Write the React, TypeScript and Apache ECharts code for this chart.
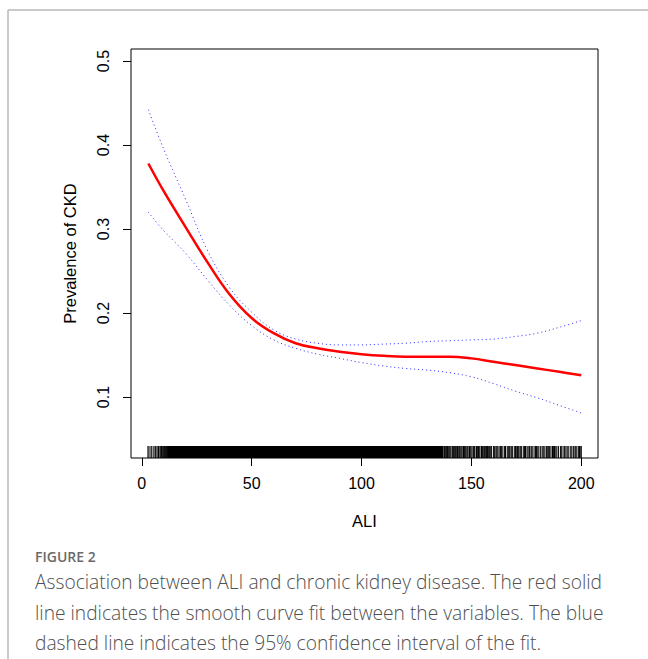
import React, { useEffect, useRef } from "react";
import * as echarts from "echarts";

const xTickValues = [0, 50, 100, 150, 200];
const yTickValues = [0.1, 0.2, 0.3, 0.4, 0.5];

const aliX = [3, 10, 20, 30, 40, 50, 60, 70, 80, 90, 100, 110, 120, 130, 140, 150, 160, 170, 180, 190, 200];
const fitY = [0.378, 0.345, 0.302, 0.26, 0.222, 0.194, 0.176, 0.164, 0.158, 0.154, 0.151, 0.149, 0.148, 0.148, 0.148, 0.146, 0.142, 0.138, 0.134, 0.13, 0.126];
const upperY = [0.442, 0.395, 0.335, 0.274, 0.23, 0.201, 0.18, 0.169, 0.164, 0.162, 0.162, 0.163, 0.164, 0.166, 0.167, 0.168, 0.169, 0.172, 0.176, 0.183, 0.191];
const lowerY = [0.32, 0.298, 0.271, 0.239, 0.209, 0.185, 0.168, 0.158, 0.151, 0.146, 0.141, 0.137, 0.134, 0.132, 0.129, 0.124, 0.116, 0.107, 0.099, 0.09, 0.081];

const rugStart = [2.8, 3.3, 4.2, 4.6, 5.5, 6.1, 6.4, 7.0, 7.6, 7.9, 8.6, 9.0, 9.3, 9.7, 10.0, 10.4, 10.7, 11.0, 11.3];
const rugDenseRanges = [[11.5, 137.2]];
const rugEnd = [137.5, 137.8, 138.3, 138.6, 139.1, 139.5, 140.1, 140.6, 141.2, 141.5, 141.9, 142.4, 142.7, 143.3, 143.7, 144.0, 144.5, 144.9, 145.4, 146.1, 146.4, 146.8, 147.2, 147.6, 148.1, 148.5, 149.1, 149.4, 149.8, 150.3, 150.9, 151.3, 151.6, 152.3, 152.7, 153.2, 153.5, 153.9, 154.6, 155.0, 155.4, 156.0, 156.5, 156.9, 157.3, 157.7, 158.3, 158.8, 159.2, 160.1, 160.4, 160.8, 161.5, 162.0, 162.6, 163.2, 163.6, 164.0, 164.9, 165.2, 165.5, 166.3, 166.8, 167.4, 168.0, 168.4, 168.8, 169.7, 170.1, 170.4, 171.0, 171.5, 172.1, 172.5, 172.9, 173.8, 174.2, 174.6, 175.3, 175.8, 176.4, 177.1, 177.5, 178.0, 178.9, 179.2, 179.6, 180.2, 180.7, 181.5, 182.2, 182.7, 183.4, 184.1, 184.5, 185.0, 185.6, 186.2, 186.9, 187.3, 187.8, 188.4, 188.9, 189.6, 190.5, 190.9, 191.7, 192.4, 193.0, 193.6, 194.3, 195.2, 195.7, 196.4, 197.1, 197.5, 198.0, 198.8, 199.2, 199.5, 200.0];

const xTitle = "ALI";
const yTitle = "Prevalence of CKD";
const figLabel = "FIGURE 2";
const captionLines = [
  "Association between ALI and chronic kidney disease. The red solid",
  "line indicates the smooth curve fit between the variables. The blue",
  "dashed line indicates the 95% confidence interval of the fit.",
];

const X_MIN = -4.9;
const X_MAX = 207.6;
const Y_MIN = 0.0274;
const Y_MAX = 0.5143;
const RUG_LEN = 12;

export default function App() {
  const ref = useRef<HTMLDivElement>(null);
  useEffect(() => {
    if (!ref.current) return;
    const chart = echarts.init(ref.current, undefined, { renderer: "svg" });
    const pairs = (ys: number[]) => aliX.map((x, i) => [x, ys[i]]);
    const rugTicks = [...rugStart, ...rugEnd].map((x) => [x, Y_MIN]);
    const font = "Liberation Sans, Arial, sans-serif";
    chart.setOption({
      animation: false,
      backgroundColor: "#ffffff",
      grid: {
        left: 131,
        top: 49,
        width: 467,
        height: 409,
        show: true,
        borderColor: "#000",
        borderWidth: 1,
      },
      xAxis: {
        type: "value",
        min: X_MIN,
        max: X_MAX,
        name: xTitle,
        nameLocation: "middle",
        nameGap: 54,
        nameMoveOverlap: false,
        nameTextStyle: { color: "#000", fontSize: 16.5, fontFamily: font },
        splitLine: { show: false },
        axisLine: { show: false, onZero: false },
        axisTick: { show: true, length: 8, customValues: xTickValues, lineStyle: { color: "#000", width: 1 } },
        axisLabel: { customValues: xTickValues, color: "#000", fontSize: 16, fontFamily: font, margin: 17 },
      },
      yAxis: {
        type: "value",
        min: Y_MIN,
        max: Y_MAX,
        name: yTitle,
        nameLocation: "middle",
        nameGap: 53,
        nameMoveOverlap: false,
        nameTextStyle: { color: "#000", fontSize: 16.5, fontFamily: font },
        splitLine: { show: false },
        axisLine: { show: false, onZero: false },
        axisTick: { show: true, length: 8, customValues: yTickValues, lineStyle: { color: "#000", width: 1 } },
        axisLabel: {
          customValues: yTickValues,
          rotate: 90,
          color: "#000",
          fontSize: 16,
          fontFamily: font,
          margin: 20,
          formatter: (v: number) => v.toFixed(1),
        },
      },
      series: [
        {
          type: "line",
          data: pairs(upperY),
          smooth: 0.4,
          showSymbol: false,
          lineStyle: { color: "#0000ff", width: 1, type: [1, 3], opacity: 0.85 },
        },
        {
          type: "line",
          data: pairs(lowerY),
          smooth: 0.4,
          showSymbol: false,
          lineStyle: { color: "#0000ff", width: 1, type: [1, 3], opacity: 0.85 },
        },
        {
          type: "line",
          data: pairs(fitY),
          smooth: 0.4,
          showSymbol: false,
          lineStyle: { color: "#ff0000", width: 2.5 },
        },
        {
          type: "custom",
          data: rugTicks,
          encode: { x: 0, y: 1 },
          renderItem: (_p: any, api: any) => {
            const c = api.coord([api.value(0), Y_MIN]);
            return {
              type: "line",
              shape: { x1: c[0], y1: c[1], x2: c[0], y2: c[1] - RUG_LEN },
              style: { stroke: "#000", lineWidth: 1 },
            };
          },
        },
        {
          type: "custom",
          data: rugDenseRanges.map((r) => [r[0], r[1]]),
          encode: { x: [0, 1] },
          renderItem: (_p: any, api: any) => {
            const a = api.coord([api.value(0), Y_MIN]);
            const b = api.coord([api.value(1), Y_MIN]);
            return {
              type: "rect",
              shape: { x: a[0], y: a[1] - RUG_LEN, width: b[0] - a[0], height: RUG_LEN },
              style: { fill: "#000" },
            };
          },
        },
      ],
      graphic: [
        { type: "line", shape: { x1: 8, y1: 10, x2: 648, y2: 10 }, style: { stroke: "#b8b8b8", lineWidth: 1.5 } },
        { type: "line", shape: { x1: 8, y1: 10, x2: 8, y2: 659 }, style: { stroke: "#b8b8b8", lineWidth: 1.5 } },
        {
          type: "text",
          x: 35,
          y: 549,
          style: { text: figLabel, fill: "#6a6a6a", fontSize: 14, fontFamily: "Open Sans, sans-serif", fontWeight: 600 },
        },
        ...captionLines.map((t, i) => ({
          type: "text",
          x: 35,
          y: 572 + i * 30.5,
          style: { text: t, fill: "#505050", fontSize: 19.2, fontFamily: "Open Sans, sans-serif", fontWeight: 300 },
        })),
      ],
    });
    return () => chart.dispose();
  }, []);
  return <div ref={ref} style={{ position: "absolute", left: 0, top: 0, width: 648, height: 659 }} />;
}
